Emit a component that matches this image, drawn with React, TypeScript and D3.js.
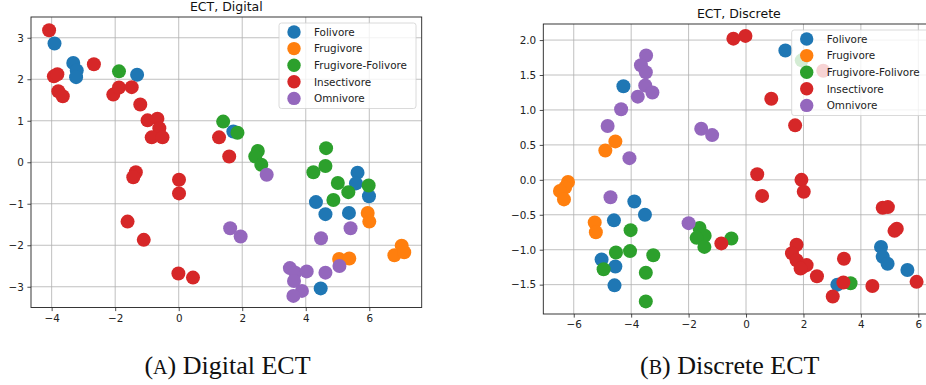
import React, { useEffect, useRef } from 'react';
import * as d3 from 'd3';

type Pt = [number, number];

const classes = ['Folivore', 'Frugivore', 'Frugivore-Folivore', 'Insectivore', 'Omnivore'];
const colors = ['#1f77b4', '#ff7f0e', '#2ca02c', '#d62728', '#9467bd'];

// panel A - Digital ECT
const digitalFolivore: Pt[] = [
  [-3.91, 2.86], [-3.32, 2.39], [-3.21, 2.21], [-3.23, 2.05], [-1.31, 2.11], [1.72, 0.74],
  [5.63, -0.25], [5.58, -0.51], [5.99, -0.82], [4.32, -0.96], [4.62, -1.25], [5.36, -1.22], [4.47, -3.04],
];
const digitalFrugivore: Pt[] = [
  [5.95, -1.22], [6.0, -1.43], [7.02, -2.01], [6.79, -2.24], [7.1, -2.17], [5.05, -2.33], [5.37, -2.32],
];
const digitalFrugFoli: Pt[] = [
  [-1.88, 2.19], [1.4, 0.98], [1.85, 0.71], [2.49, 0.27], [2.41, 0.14], [2.6, -0.06], [4.64, 0.34],
  [4.62, -0.09], [4.24, -0.24], [5.01, -0.5], [5.34, -0.72], [5.98, -0.56], [4.87, -0.91],
];
const digitalInsectivore: Pt[] = [
  [-4.08, 3.18], [-3.93, 2.07], [-3.82, 2.12], [-3.79, 1.71], [-3.65, 1.59], [-2.67, 2.36],
  [-2.06, 1.63], [-1.88, 1.8], [-1.48, 1.81], [-1.21, 1.39], [-0.98, 1.01], [-0.67, 1.05],
  [-0.61, 0.82], [-0.85, 0.6], [-0.51, 0.6], [-1.35, -0.24], [-1.43, -0.36], [0.01, -0.42],
  [0.01, -0.75], [-1.61, -1.43], [-1.1, -1.87], [-0.01, -2.68], [0.45, -2.78], [1.27, 0.6], [1.59, 0.14],
];
const digitalOmnivore: Pt[] = [
  [2.77, -0.3], [1.62, -1.59], [1.95, -1.79], [4.48, -1.83], [5.41, -1.59], [3.5, -2.55], [3.67, -2.66],
  [4.03, -2.63], [3.63, -2.86], [3.88, -3.1], [3.61, -3.22], [4.62, -2.66], [5.06, -2.5],
];

// panel B - Discrete ECT
const discreteFolivore: Pt[] = [
  [-4.27, 1.34], [1.37, 1.85], [-3.89, -0.31], [-3.52, -0.5], [-4.6, -0.58], [-5.03, -1.14],
  [-4.55, -1.24], [-4.58, -1.51], [4.7, -0.96], [4.76, -1.1], [4.93, -1.2], [5.62, -1.29], [3.18, -1.5],
];
const discreteFrugivore: Pt[] = [
  [-6.2, -0.03], [-6.3, -0.11], [-6.48, -0.16], [-6.34, -0.28], [-5.27, -0.61], [-5.23, -0.75],
  [-4.9, 0.42], [-4.55, 0.55],
];
const discreteFrugFoli: Pt[] = [
  [1.94, 1.71], [-4.02, -0.72], [-4.53, -1.04], [-4.04, -1.02], [-3.23, -1.08], [-4.96, -1.28],
  [-3.49, -1.33], [-3.49, -1.74], [-1.62, -0.69], [-1.44, -0.8], [-1.72, -0.83], [-1.45, -0.96],
  [-0.51, -0.84], [3.64, -1.48],
];
const discreteInsectivore: Pt[] = [
  [-0.44, 2.02], [-0.02, 2.06], [2.69, 1.56], [0.88, 1.16], [1.71, 0.78], [0.39, 0.08], [0.56, -0.23],
  [1.93, 0.0], [2.01, -0.17], [-0.86, -0.91], [1.76, -0.93], [1.6, -1.05], [1.76, -1.15], [2.0, -1.24],
  [2.11, -1.22], [1.9, -1.27], [2.47, -1.38], [3.41, -1.13], [3.39, -1.47], [3.02, -1.67], [4.4, -1.52],
  [4.76, -0.4], [4.94, -0.39], [5.25, -0.7], [5.17, -0.73], [5.94, -1.46],
];
const discreteOmnivore: Pt[] = [
  [-3.48, 1.78], [-3.66, 1.64], [-3.49, 1.54], [-3.51, 1.35], [-3.77, 1.19], [-3.26, 1.25],
  [-4.35, 1.01], [-4.82, 0.77], [-4.06, 0.31], [-4.72, -0.25], [-1.56, 0.73], [-1.18, 0.64], [-2.0, -0.62],
];

const digitalXTicks = [-4, -2, 0, 2, 4, 6];
const digitalYTicks = [-3, -2, -1, 0, 1, 2, 3];
const discreteXTicks = [-6, -4, -2, 0, 2, 4, 6];
const discreteYTicks = [-1.5, -1.0, -0.5, 0.0, 0.5, 1.0, 1.5, 2.0];

const FONT = '"DejaVu Sans", sans-serif';

const drawPanel = (svg, opts) => {
  const { left, right, top, bottom, xDomain, yDomain, xTicks, yTicks, yFormat, title, series } = opts;
  const x = d3.scaleLinear().domain(xDomain).range([left, right]);
  const y = d3.scaleLinear().domain(yDomain).range([bottom, top]);

  const g = svg.append('g');
  const clipId = 'clip-' + title.replace(/[^a-z]/gi, '');
  g.append('clipPath').attr('id', clipId)
    .append('rect').attr('x', left).attr('y', top).attr('width', right - left).attr('height', bottom - top);

  // grid
  const grid = g.append('g').attr('clip-path', `url(#${clipId})`);
  grid.selectAll('.gx').data(xTicks).enter().append('line')
    .attr('x1', d => x(d)).attr('x2', d => x(d)).attr('y1', top).attr('y2', bottom)
    .style('stroke', '#b0b0b0').style('stroke-width', 0.8);
  grid.selectAll('.gy').data(yTicks).enter().append('line')
    .attr('x1', left).attr('x2', right).attr('y1', d => y(d)).attr('y2', d => y(d))
    .style('stroke', '#b0b0b0').style('stroke-width', 0.8);

  // points
  const pts = g.append('g').attr('clip-path', `url(#${clipId})`);
  series.forEach((data, i) => {
    pts.selectAll(null).data(data).enter().append('circle')
      .attr('cx', d => x(d[0])).attr('cy', d => y(d[1])).attr('r', 7)
      .style('fill', colors[i]);
  });

  // axes
  const xAxis = d3.axisBottom(x).tickValues(xTicks).tickSize(3.6).tickPadding(3.5);
  const yAxis = d3.axisLeft(y).tickValues(yTicks).tickSize(3.6).tickPadding(3.5)
    .tickFormat(yFormat ? d3.format(yFormat) : d3.format('d'));
  [g.append('g').attr('transform', `translate(0,${bottom})`).call(xAxis),
   g.append('g').attr('transform', `translate(${left},0)`).call(yAxis)].forEach(a => {
    a.select('.domain').remove();
    a.selectAll('line').style('stroke', '#222').style('stroke-width', 0.8);
    a.selectAll('text').style('font-family', FONT).style('font-size', '10.4px').style('fill', '#222');
  });

  g.append('rect').attr('x', left).attr('y', top).attr('width', right - left).attr('height', bottom - top)
    .style('fill', 'none').style('stroke', '#222').style('stroke-width', 0.9);

  g.append('text').attr('x', (left + right) / 2).attr('y', top - 6)
    .attr('text-anchor', 'middle').style('font-family', FONT).style('font-size', '12.5px').style('fill', '#111')
    .text(title);

  // legend
  const lw = 137, lh = 85.5;
  const lx = right - 5.7 - lw, ly = top + 6;
  const leg = g.append('g');
  leg.append('rect').attr('x', lx).attr('y', ly).attr('width', lw).attr('height', lh).attr('rx', 2.5)
    .style('fill', 'rgba(255,255,255,0.8)').style('stroke', '#d0d0d0').style('stroke-width', 0.8);
  classes.forEach((c, i) => {
    const cy = ly + 9 + i * 16.6;
    leg.append('circle').attr('cx', lx + 15).attr('cy', cy).attr('r', 6.7).style('fill', colors[i]);
    leg.append('text').attr('x', lx + 35).attr('y', cy).attr('dy', '0.36em')
      .style('font-family', FONT).style('font-size', '10.4px').style('fill', '#222').text(c);
  });
};

const Caption = ({ x, label, text }) => (
  <text x={x} y={374} textAnchor="middle" style={{ fontFamily: '"Liberation Serif", serif', fontSize: '26px', fill: '#111' }}>
    (<tspan style={{ fontSize: '20px' }}>{label}</tspan>) {text}
  </text>
);

export default function App() {
  const ref = useRef<SVGSVGElement>(null);

  useEffect(() => {
    const svg = d3.select(ref.current);
    svg.selectAll('g').remove();
    drawPanel(svg, {
      left: 31, right: 421.7, top: 17, bottom: 307.5,
      xDomain: [-4.65, 7.65], yDomain: [-3.5, 3.5],
      xTicks: digitalXTicks, yTicks: digitalYTicks, yFormat: null,
      title: 'ECT, Digital',
      series: [digitalFolivore, digitalFrugivore, digitalFrugFoli, digitalInsectivore, digitalOmnivore],
    });
    drawPanel(svg, {
      left: 543.3, right: 934.4, top: 24, bottom: 314,
      xDomain: [-7.06, 6.56], yDomain: [-1.92, 2.23],
      xTicks: discreteXTicks, yTicks: discreteYTicks, yFormat: '.1f',
      title: 'ECT, Discrete',
      series: [discreteFolivore, discreteFrugivore, discreteFrugFoli, discreteInsectivore, discreteOmnivore],
    });
  }, []);

  return (
    <svg ref={ref} width={926} height={385}
      style={{ position: 'absolute', left: 0, top: 0, background: '#fff', display: 'block' }}>
      <Caption x={227.5} label="A" text="Digital ECT" />
      <Caption x={729.7} label="B" text="Discrete ECT" />
    </svg>
  );
}
